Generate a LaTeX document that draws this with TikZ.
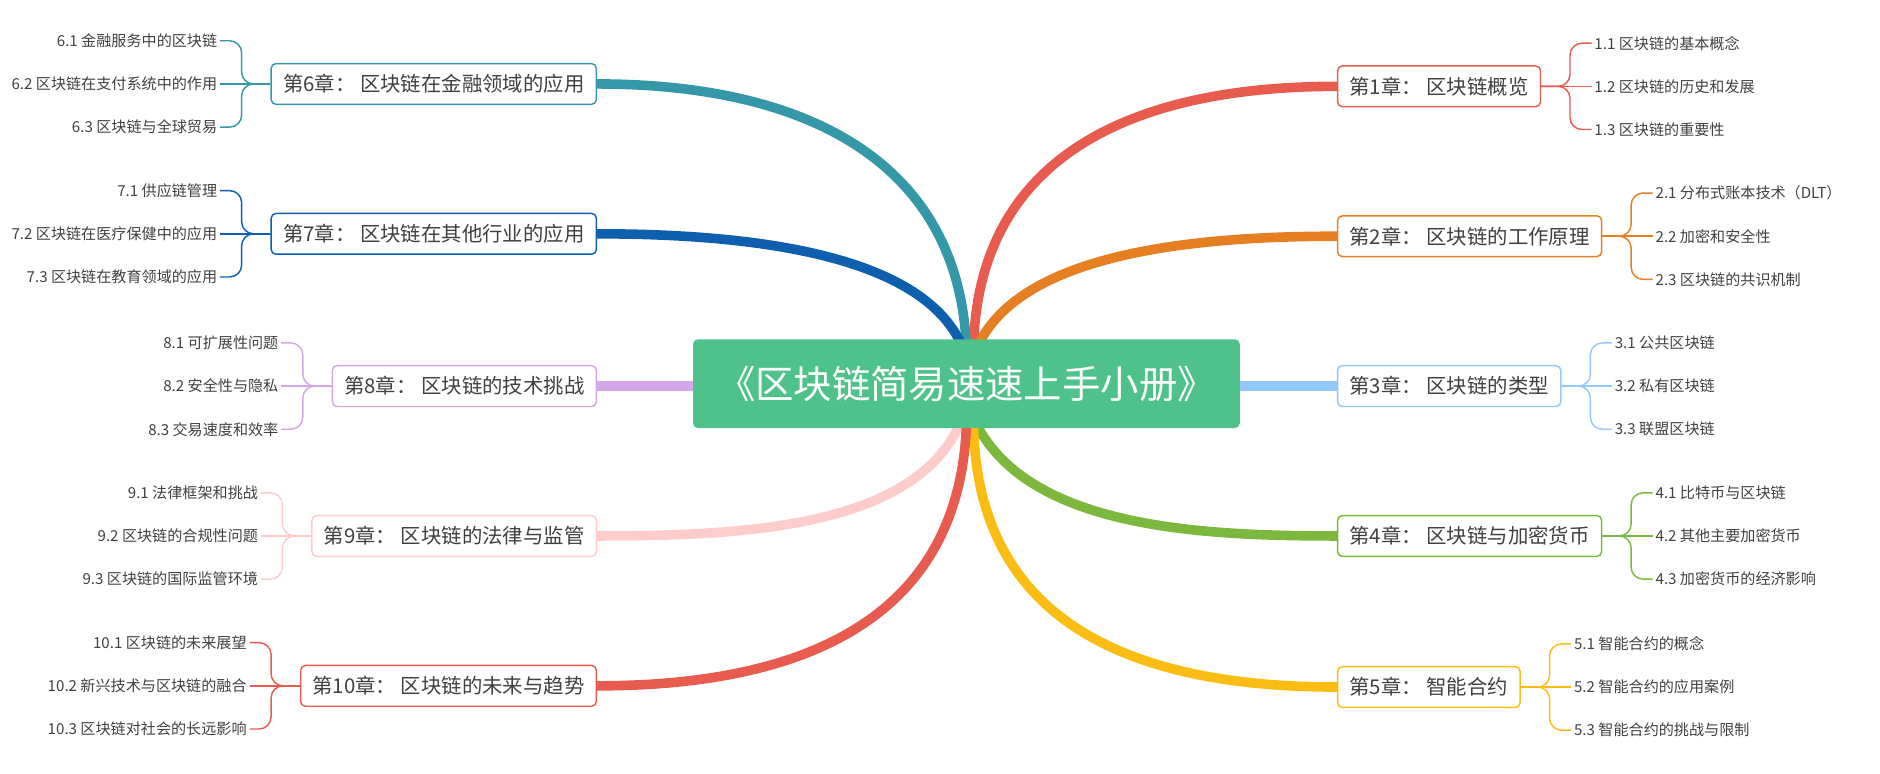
\documentclass[tikz,border=0pt]{standalone}
\usepackage{fontspec}
\setmainfont{Noto Sans CJK SC}
\usetikzlibrary{positioning}
\definecolor{cred}{HTML}{E85C4F}
\definecolor{corange}{HTML}{E67E22}
\definecolor{cblue}{HTML}{92C9FA}
\definecolor{cgreen}{HTML}{7CB83E}
\definecolor{cyellow}{HTML}{FBBC14}
\definecolor{cteal}{HTML}{3598A8}
\definecolor{cdblue}{HTML}{0E5FAE}
\definecolor{cpurple}{HTML}{D5A6E8}
\definecolor{cpink}{HTML}{FFCCCC}
\definecolor{cmain}{HTML}{4FC18A}
\tikzset{
  chapter/.style={draw=#1, fill=white, rounded corners=2pt, line width=0.6pt,
    font=\fontsize{8.5}{10}\selectfont, text=black!75, inner xsep=5pt, minimum height=17pt},
  sub/.style={font=\fontsize{6.3}{8}\selectfont, text=black!75, inner sep=1pt},
  branch/.style={line width=4pt, draw=#1},
  brace/.style={draw=#1, line width=0.6pt, rounded corners=5pt}
}
\begin{document}
\begin{tikzpicture}[x=0.5pt,y=-0.5pt]
    \useasboundingbox (0,0) rectangle (1568,645);

    % chapters on the right
    \node[chapter=cred, anchor=west] (c1) at (1115,72) {第1章： 区块链概览};
    \node[chapter=corange, anchor=west] (c2) at (1115,197) {第2章： 区块链的工作原理};
    \node[chapter=cblue, anchor=west] (c3) at (1115,322) {第3章： 区块链的类型};
    \node[chapter=cgreen, anchor=west] (c4) at (1115,447) {第4章： 区块链与加密货币};
    \node[chapter=cyellow, anchor=west] (c5) at (1115,573) {第5章： 智能合约};

    % chapters on the left
    \node[chapter=cteal, anchor=east] (c6) at (498,70) {第6章： 区块链在金融领域的应用};
    \node[chapter=cdblue, anchor=east] (c7) at (498,195) {第7章： 区块链在其他行业的应用};
    \node[chapter=cpurple, anchor=east] (c8) at (498,322) {第8章： 区块链的技术挑战};
    \node[chapter=cpink, anchor=east] (c9) at (498,447) {第9章： 区块链的法律与监管};
    \node[chapter=cred, anchor=east] (c10) at (498,572) {第10章： 区块链的未来与趋势};

    % branches
    \draw[branch=cred] (812,290) .. controls (815,140) and (930,72) .. (c1.west);
    \draw[branch=corange] (815,290) .. controls (850,210) and (1000,197) .. (c2.west);
    \draw[branch=cblue] (1000,322) -- (c3.west);
    \draw[branch=cgreen] (815,355) .. controls (860,440) and (1000,447) .. (c4.west);
    \draw[branch=cyellow] (812,355) .. controls (815,510) and (930,573) .. (c5.west);
    \draw[branch=cteal] (806,290) .. controls (800,140) and (680,70) .. (c6.east);
    \draw[branch=cdblue] (803,290) .. controls (770,210) and (620,195) .. (c7.east);
    \draw[branch=cpurple] (c8.east) -- (600,322);
    \draw[branch=cpink] (800,355) .. controls (760,440) and (620,447) .. (c9.east);
    \draw[branch=cred] (806,355) .. controls (800,510) and (680,572) .. (c10.east);

    \node[fill=cmain, rounded corners=2pt, text=white, minimum width=228pt, minimum height=37pt,
      font=\fontsize{16}{18}\selectfont] (root) at (806,320) {《区块链简易速速上手小册》};

    % sub topics right
    \node[sub, right=21pt of c1] (s12) {1.2 区块链的历史和发展};
    \node[sub, anchor=west] (s11) at ([yshift=18pt]s12.west) {1.1 区块链的基本概念};
    \node[sub, anchor=west] (s13) at ([yshift=-18pt]s12.west) {1.3 区块链的重要性};
    \node[sub, right=21pt of c2] (s22) {2.2 加密和安全性};
    \node[sub, anchor=west] (s21) at ([yshift=18pt]s22.west) {2.1 分布式账本技术（DLT）};
    \node[sub, anchor=west] (s23) at ([yshift=-18pt]s22.west) {2.3 区块链的共识机制};
    \node[sub, right=21pt of c3] (s32) {3.2 私有区块链};
    \node[sub, anchor=west] (s31) at ([yshift=18pt]s32.west) {3.1 公共区块链};
    \node[sub, anchor=west] (s33) at ([yshift=-18pt]s32.west) {3.3 联盟区块链};
    \node[sub, right=21pt of c4] (s42) {4.2 其他主要加密货币};
    \node[sub, anchor=west] (s41) at ([yshift=18pt]s42.west) {4.1 比特币与区块链};
    \node[sub, anchor=west] (s43) at ([yshift=-18pt]s42.west) {4.3 加密货币的经济影响};
    \node[sub, right=21pt of c5] (s52) {5.2 智能合约的应用案例};
    \node[sub, anchor=west] (s51) at ([yshift=18pt]s52.west) {5.1 智能合约的概念};
    \node[sub, anchor=west] (s53) at ([yshift=-18pt]s52.west) {5.3 智能合约的挑战与限制};

    % sub topics left
    \node[sub, left=21pt of c6] (s62) {6.2 区块链在支付系统中的作用};
    \node[sub, anchor=east] (s61) at ([yshift=18pt]s62.east) {6.1 金融服务中的区块链};
    \node[sub, anchor=east] (s63) at ([yshift=-18pt]s62.east) {6.3 区块链与全球贸易};
    \node[sub, left=21pt of c7] (s72) {7.2 区块链在医疗保健中的应用};
    \node[sub, anchor=east] (s71) at ([yshift=18pt]s72.east) {7.1 供应链管理};
    \node[sub, anchor=east] (s73) at ([yshift=-18pt]s72.east) {7.3 区块链在教育领域的应用};
    \node[sub, left=21pt of c8] (s82) {8.2 安全性与隐私};
    \node[sub, anchor=east] (s81) at ([yshift=18pt]s82.east) {8.1 可扩展性问题};
    \node[sub, anchor=east] (s83) at ([yshift=-18pt]s82.east) {8.3 交易速度和效率};
    \node[sub, left=21pt of c9] (s92) {9.2 区块链的合规性问题};
    \node[sub, anchor=east] (s91) at ([yshift=18pt]s92.east) {9.1 法律框架和挑战};
    \node[sub, anchor=east] (s93) at ([yshift=-18pt]s92.east) {9.3 区块链的国际监管环境};
    \node[sub, left=21pt of c10] (s102) {10.2 新兴技术与区块链的融合};
    \node[sub, anchor=east] (s101) at ([yshift=18pt]s102.east) {10.1 区块链的未来展望};
    \node[sub, anchor=east] (s103) at ([yshift=-18pt]s102.east) {10.3 区块链对社会的长远影响};

    % braces
    \foreach \c/\col in {1/cred,2/corange,3/cblue,4/cgreen,5/cyellow}{
      \draw[brace=\col] (c\c.east) -- (s\c2.west);
      \draw[brace=\col] (c\c.east) -- ++(12pt,0) |- (s\c1.west);
      \draw[brace=\col] (c\c.east) -- ++(12pt,0) |- (s\c3.west);
    }
    \foreach \c/\col in {6/cteal,7/cdblue,8/cpurple,9/cpink,10/cred}{
      \draw[brace=\col] (c\c.west) -- (s\c2.east);
      \draw[brace=\col] (c\c.west) -- ++(-12pt,0) |- (s\c1.east);
      \draw[brace=\col] (c\c.west) -- ++(-12pt,0) |- (s\c3.east);
    }
\end{tikzpicture}
\end{document}
